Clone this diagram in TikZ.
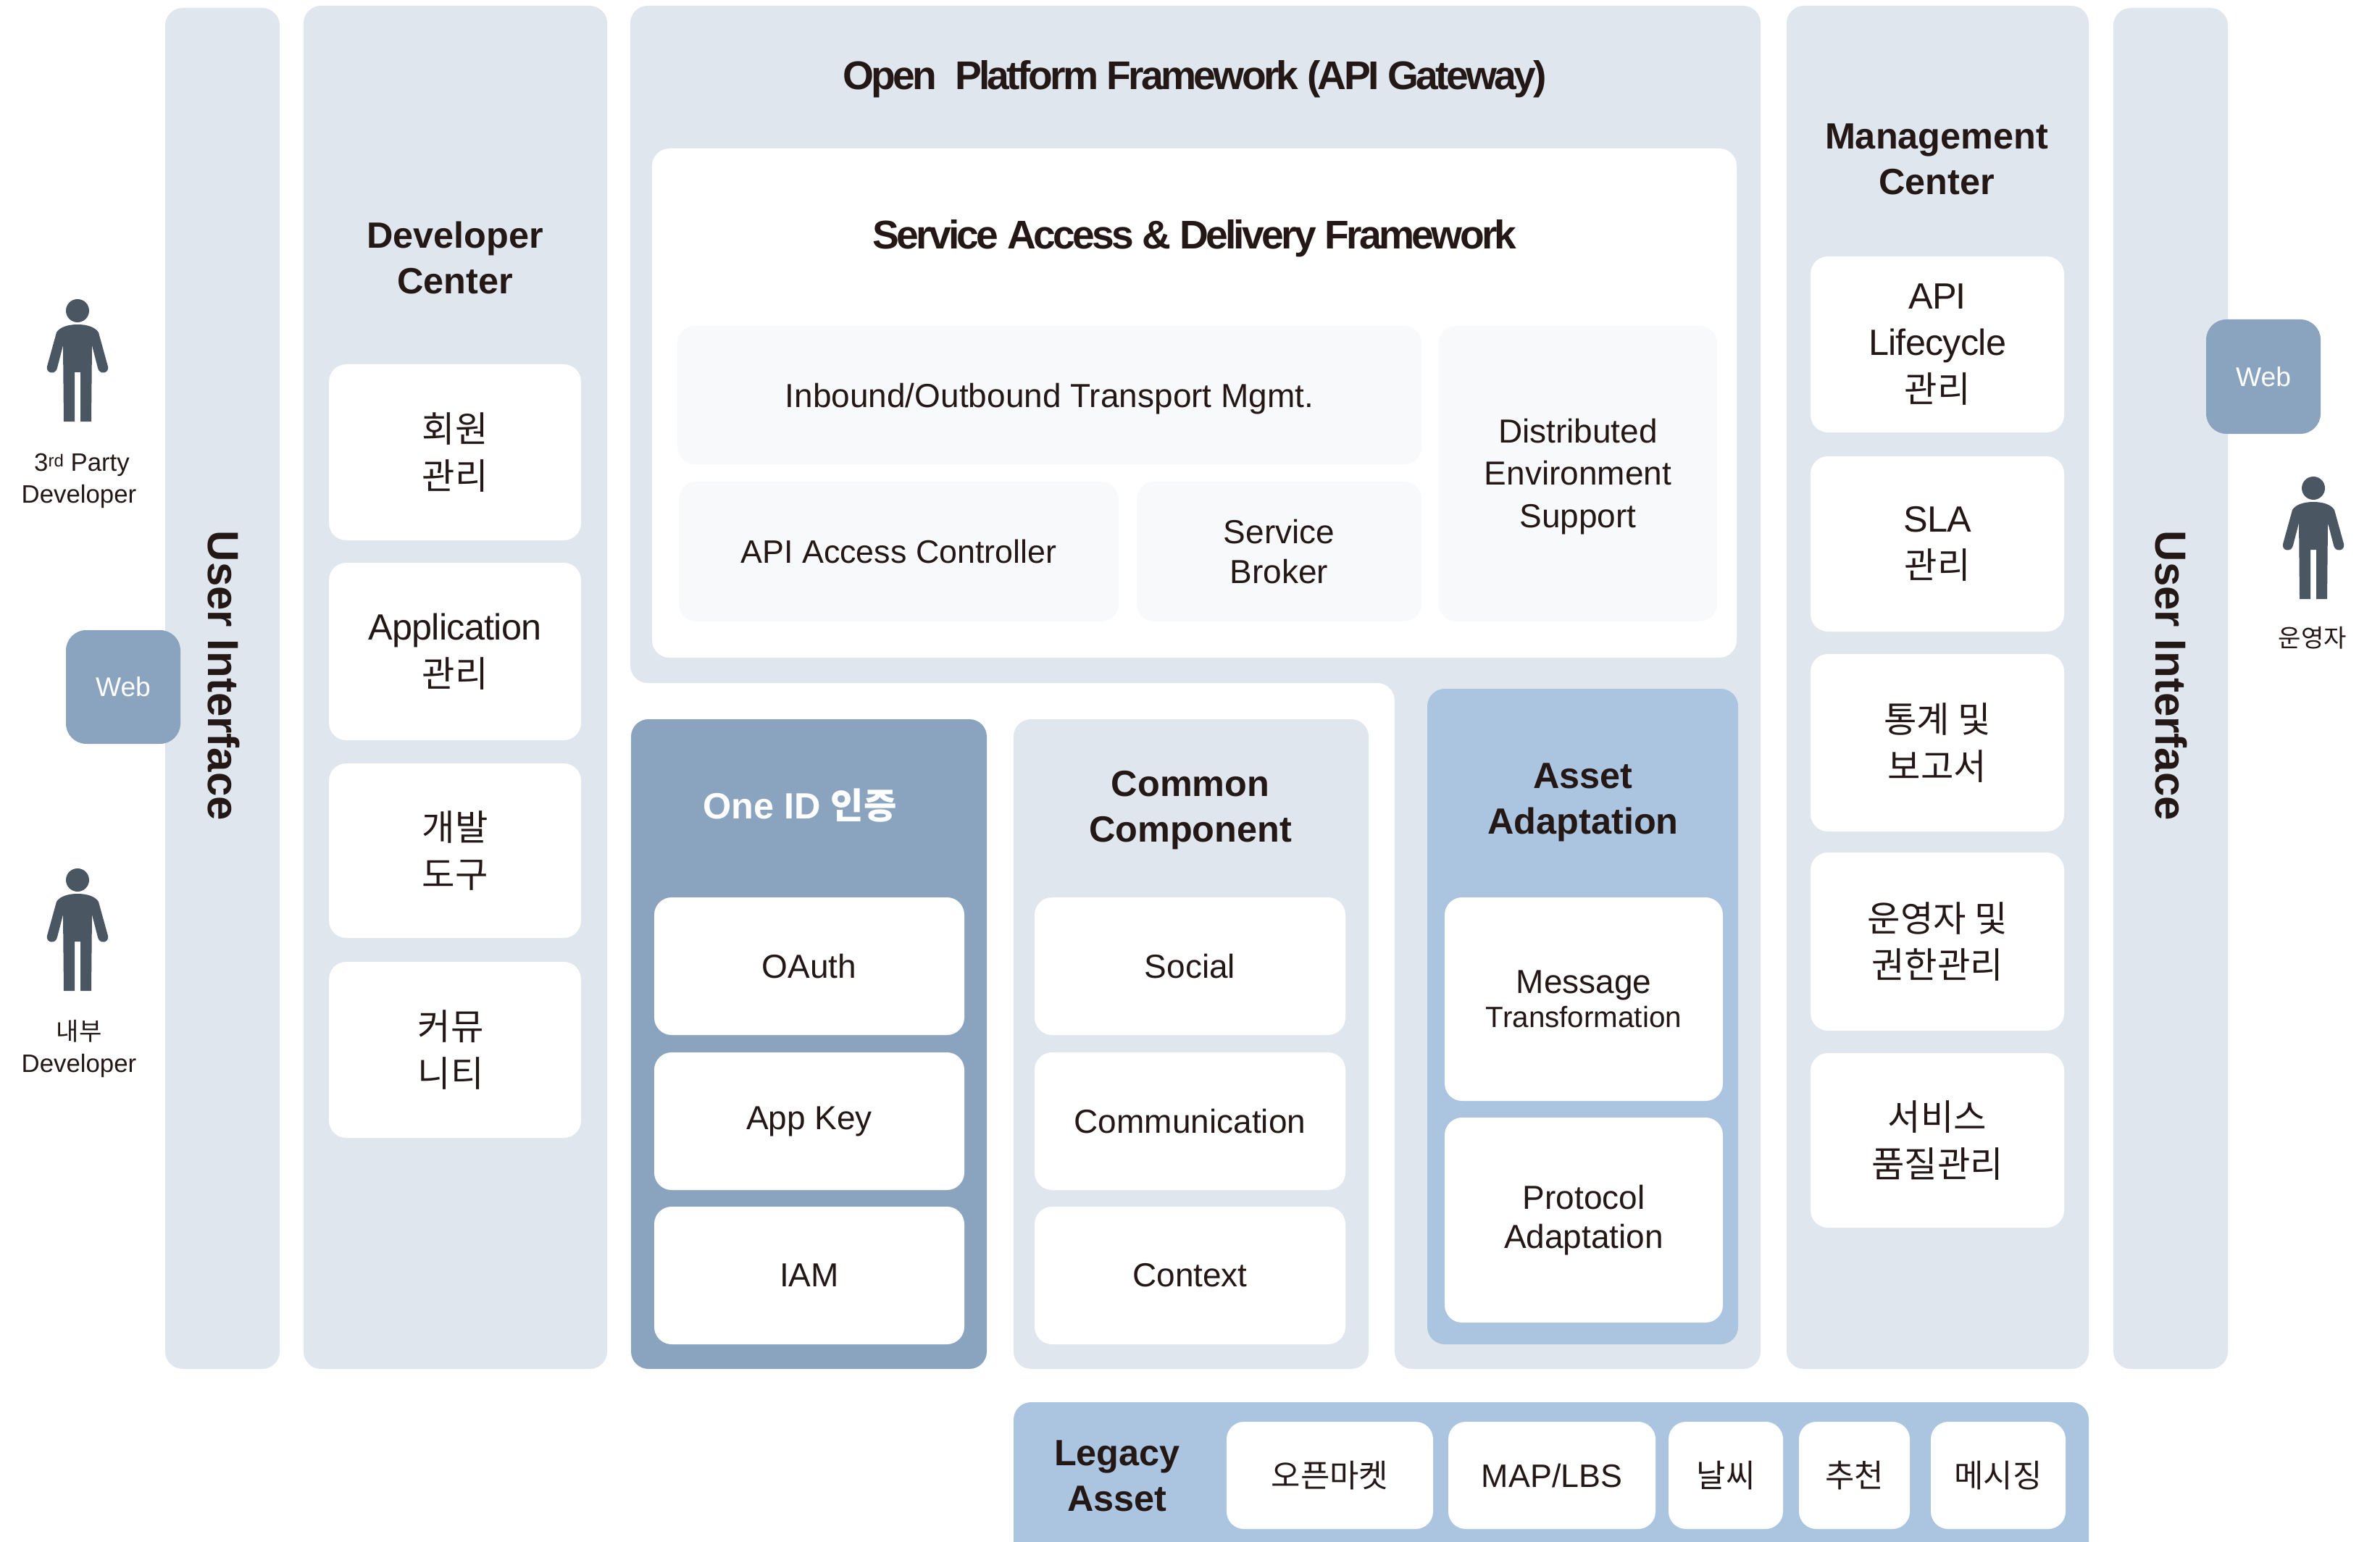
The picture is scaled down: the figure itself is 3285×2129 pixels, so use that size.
\documentclass[tikz,border=0pt]{standalone}
\usepackage{fontspec}
\setmainfont{Liberation Sans}
\newfontfamily\kofont[Scale=0.98]{Noto Sans CJK KR}
\newcommand{\ko}[1]{{\kofont #1}}
\newcommand{\tight}[1]{\addfontfeature{LetterSpace=#1}}
\definecolor{pale}{HTML}{DFE6ED}
\definecolor{midblue}{HTML}{8AA4C0}
\definecolor{liteblue}{HTML}{ABC4DF}
\definecolor{faint}{HTML}{F8F9FB}
\definecolor{ink}{HTML}{231815}
\definecolor{figure}{HTML}{4A5661}
\newcommand{\bx}[7]{%
  \pgfmathsetmacro{\bxw}{(#5-#3)*0.25}\pgfmathsetmacro{\bxh}{(#6-#4)*0.25}%
  \pgfmathsetmacro{\bxx}{(#3+#5)/2}\pgfmathsetmacro{\bxy}{(#4+#6)/2}%
  \node[#2,minimum width=\bxw pt,minimum height=\bxh pt] (#1) at (\bxx,\bxy) {#7};}
\tikzset{
  base/.style={inner sep=0pt,outer sep=0pt,align=center,text=ink,rounded corners=6pt},
  panel/.style={base,fill=pale},
  card/.style={base,fill=white,font=\fontsize{11.5}{15.7}\selectfont},
  bigcard/.style={base,fill=white,font=\fontsize{12.6}{16.1}\selectfont\tight{-1.5}},
  smallcard/.style={base,fill=white,font=\fontsize{11.2}{14}\selectfont},
  soft/.style={base,fill=faint,font=\fontsize{11.5}{14.6}\selectfont,text depth=0pt},
  darkpanel/.style={base,fill=midblue},
  litepanel/.style={base,fill=liteblue},
  webbox/.style={base,fill=midblue,text=white,rounded corners=7pt,font=\fontsize{9.3}{11}\selectfont},
  head/.style={inner sep=0pt,outer sep=0pt,align=center,text=ink,font=\fontsize{12.6}{15.7}\selectfont\bfseries},
  bigger/.style={inner sep=0pt,outer sep=0pt,align=center,text=ink,font=\fontsize{13.8}{15.7}\selectfont\bfseries\tight{-6.7}},
  sidelabel/.style={inner sep=0pt,outer sep=0pt,align=center,text=ink,rotate=-90,font=\fontsize{15}{16}\selectfont\bfseries},
  actor/.style={inner sep=0pt,outer sep=0pt,align=center,text=ink,font=\fontsize{8.7}{11}\selectfont},
  person/.pic={
    \fill[figure] (0,0) circle (16);
    \fill[figure] (0,19) .. controls (12,19) and (24,22) .. (29,30)
      -- (42,77) .. controls (44,87) and (30,89) .. (28,79) -- (20,48) -- (19,153) -- (4,153) -- (4,85)
      -- (-4,85) -- (-4,153) -- (-19,153) -- (-20,48) -- (-28,79) .. controls (-30,89) and (-44,87) .. (-42,77)
      -- (-29,30) .. controls (-24,22) and (-12,19) .. (0,19) -- cycle;
  }
}
\begin{document}
\begin{tikzpicture}[x=0.25pt,y=-0.25pt]
\useasboundingbox (0,0) rectangle (3285,2129);
\clip (0,0) rectangle (3285,2129);
\fill[white] (0,0) rectangle (3285,2129);

% side bars
\bx{uileft}{panel}{228}{11}{386}{1890}{}
\bx{uiright}{panel}{2917}{11}{3075}{1890}{}
\node[sidelabel] (uileftlabel) at (309,933) {User Interface};
\node[sidelabel] (uirightlabel) at (2997,933) {User Interface};

% actors
\pic (p1) at (107,429) {person};
\pic (p2) at (107,1215) {person};
\pic (p3) at (3193,674) {person};
\node[actor] (a1) at (109,664) {\hspace*{2pt}3{\fontsize{6}{6}\selectfont\raisebox{1.6pt}{rd}} Party\\Developer};
\node[actor] (a2) at (109,1448) {\ko{내부}\\Developer};
\node[actor] (a3) at (3192,881) {\ko{운영자}};
\bx{webl}{webbox}{91}{870}{249}{1027}{\raisebox{-1pt}{Web}}
\bx{webr}{webbox}{3045}{441}{3203}{599}{\raisebox{-1pt}{Web}}

% developer center
\bx{dev}{panel}{419}{8}{838}{1890}{}
\node[head] (devt) at (628,356) {Developer\\Center};
\bx{d1}{bigcard}{454}{503}{802}{746}{\ko{회원}\\\ko{관리}}
\bx{d2}{bigcard}{454}{777}{802}{1022}{Application\\\ko{관리}}
\bx{d3}{bigcard}{454}{1054}{802}{1295}{\ko{개발}\\\ko{도구}}
\bx{d4}{bigcard}{454}{1328}{802}{1571}{\ko{커뮤}\hspace*{3pt}\\\ko{니티}\hspace*{3pt}}

% open platform (L-shaped panel)
\fill[pale,rounded corners=6pt] (870,8) -- (2430,8) -- (2430,1890) -- (1925,1890) -- (1925,943) -- (870,943) -- cycle;
\node[bigger] (opt) at (1649,109) {Open\hspace{0.45em}Platform Framework (API Gateway)};
\bx{sad}{base,fill=white}{900}{205}{2397}{908}{}
\node[bigger] (sadt) at (1649,329) {Service Access \& Delivery Framework};
\bx{s1}{soft}{935}{450}{1962}{641}{Inbound/Outbound Transport Mgmt.}
\bx{s2}{soft,font=\fontsize{11.2}{14.6}\selectfont}{937}{665}{1544}{858}{API Access Controller}
\bx{s3}{soft,font=\fontsize{11.5}{13.9}\selectfont}{1569}{665}{1962}{858}{Service\\Broker}
\bx{s4}{soft}{1986}{450}{2370}{858}{\raisebox{0.5pt}{Distributed}\\\raisebox{0.5pt}{Environment}\\\raisebox{0.5pt}{Support}}

% one id
\bx{oid}{darkpanel}{871}{993}{1362}{1890}{}
\node[head,text=white] (oidt) at (1104,1112) {One ID \ko{인증}};
\bx{o1}{card}{903}{1239}{1331}{1429}{OAuth}
\bx{o2}{card}{903}{1453}{1331}{1643}{\raisebox{-0.8pt}{App Key}}
\bx{o3}{card}{903}{1666}{1331}{1856}{IAM}

% common component
\bx{cc}{panel}{1399}{993}{1889}{1890}{}
\node[head] (cct) at (1643,1119) {Common\\Component};
\bx{c1}{card}{1428}{1239}{1857}{1429}{Social}
\bx{c2}{card}{1428}{1453}{1857}{1643}{Communication}
\bx{c3}{card}{1428}{1666}{1857}{1856}{Context}

% asset adaptation
\bx{aa}{litepanel}{1970}{951}{2399}{1856}{}
\node[head] (aat) at (2185,1108) {Asset\\Adaptation};
\bx{a4}{card}{1994}{1239}{2378}{1520}{\raisebox{-2pt}{Message}\\[-2pt]{\fontsize{10.1}{13}\selectfont Transformation}}
\bx{a5}{card}{1994}{1543}{2378}{1826}{\raisebox{-1pt}{Protocol}\\[-1pt]Adaptation}

% management center
\bx{mg}{panel}{2466}{8}{2883}{1890}{}
\node[head] (mgt) at (2673,220) {Management\\Center};
\bx{m1}{bigcard}{2499}{354}{2849}{597}{API\\Lifecycle\\\ko{관리}}
\bx{m2}{bigcard}{2499}{630}{2849}{872}{SLA\\\ko{관리}}
\bx{m3}{bigcard}{2499}{903}{2849}{1148}{\ko{통계 및}\\\ko{보고서}}
\bx{m4}{bigcard}{2499}{1177}{2849}{1423}{\ko{운영자 및}\\\ko{권한관리}}
\bx{m5}{bigcard}{2499}{1454}{2849}{1695}{\ko{서비스}\\\ko{품질관리}}

% legacy
\bx{lg}{litepanel}{1399}{1936}{2883}{2170}{}
\node[head] (lgt) at (1542,2038) {Legacy\\Asset};
\bx{l1}{smallcard}{1693}{1963}{1978}{2111}{\ko{오픈마켓}}
\bx{l2}{smallcard}{1999}{1963}{2285}{2111}{MAP/LBS}
\bx{l3}{smallcard}{2303}{1963}{2461}{2111}{\ko{날씨}}
\bx{l4}{smallcard}{2483}{1963}{2636}{2111}{\ko{추천}}
\bx{l5}{smallcard}{2665}{1963}{2851}{2111}{\ko{메시징}}
\end{tikzpicture}
\end{document}
